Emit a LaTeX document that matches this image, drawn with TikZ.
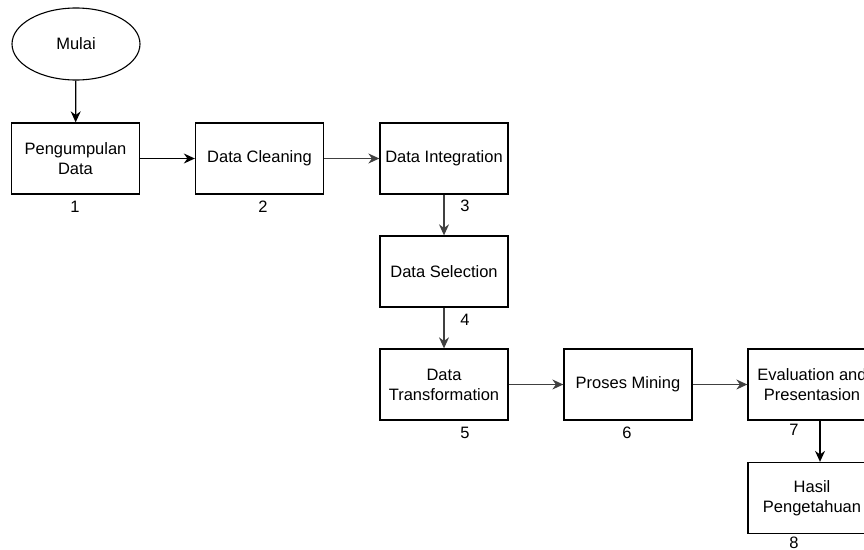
\documentclass[tikz,border=0pt]{standalone}
\usepackage{fontspec}
\setmainfont{Liberation Sans}
\usetikzlibrary{arrows.meta,shapes.geometric}

\begin{document}
\begin{tikzpicture}[x=1pt,y=-1pt,
	every node/.style={font=\fontsize{16.5}{20}\selectfont},
	stage/.style={draw,line width=1.3pt,minimum width=128pt,minimum height=71pt,align=center,inner sep=0pt},
	flow/.style={-{Stealth[length=11pt,width=10pt]},line width=1.3pt}]

	\useasboundingbox (0,0) rectangle (864,549);

	\node[draw,ellipse,line width=1.1pt,minimum width=128pt,minimum height=72pt,inner sep=0pt] (mulai) at (76,44) {Mulai};

	\node[stage] (kumpul) at (75.5,158.5) {Pengumpulan\\Data};
	\node[stage] (cleaning) at (259.5,158.5) {Data Cleaning};
	\node[stage] (integration) at (444,158.5) {Data Integration};
	\node[stage] (selection) at (444,271.5) {Data Selection};
	\node[stage] (transform) at (444,384.5) {Data\\Transformation};
	\node[stage] (mining) at (628,384.5) {Proses Mining};
	\node[stage] (evaluasi) at (812,384.5) {Evaluation and\\Presentasion};
	\node[stage] (hasil) at (812,498) {Hasil\\Pengetahuan};

	% nomor tahap
	\node (no1) at (75,207) {1};
	\node (no2) at (263,207) {2};
	\node (no3) at (465,206) {3};
	\node (no4) at (465,320) {4};
	\node (no5) at (465,433) {5};
	\node (no6) at (627,433) {6};
	\node (no7) at (794,430) {7};
	\node (no8) at (794,543) {8};

	\draw[flow] (mulai) -- (kumpul);
	\draw[flow] (kumpul) -- (cleaning);
	\draw[flow,black!75] (cleaning) -- (integration);
	\draw[flow,black!75] (integration) -- (selection);
	\draw[flow,black!75] (selection) -- (transform);
	\draw[flow,black!75] (transform) -- (mining);
	\draw[flow,black!75] (mining) -- (evaluasi);
	\draw[flow] (evaluasi.south -| 820,0) -- (hasil.north -| 820,0);

\end{tikzpicture}
\end{document}
